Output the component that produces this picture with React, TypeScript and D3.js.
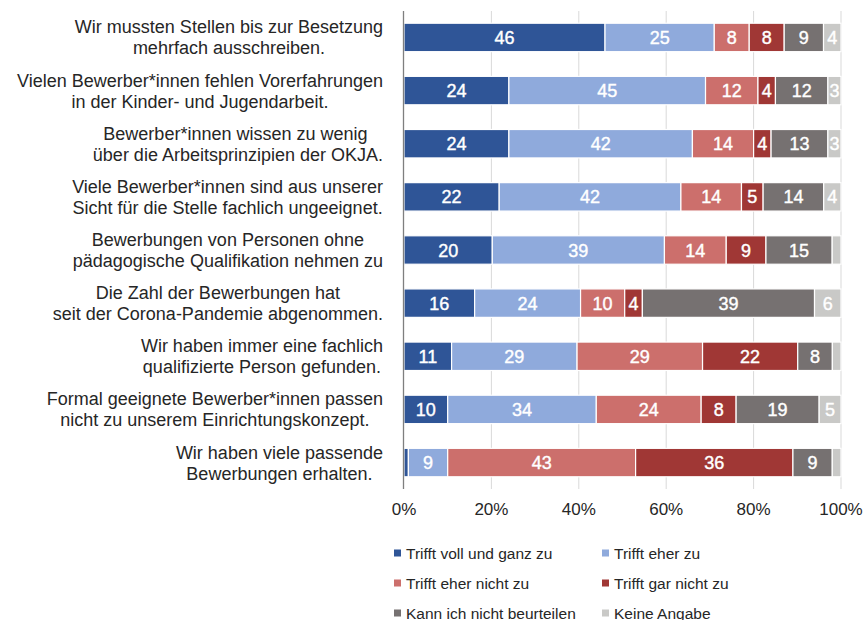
import React, { useEffect, useRef } from "react";
import * as d3 from "d3";

// statements (two lines each)
const statements = [
  ["Wir mussten Stellen bis zur Besetzung", "mehrfach ausschreiben."],
  ["Vielen Bewerber*innen fehlen Vorerfahrungen", "in der Kinder- und Jugendarbeit."],
  ["Bewerber*innen wissen zu wenig ", "über die Arbeitsprinzipien der OKJA."],
  ["Viele Bewerber*innen sind aus unserer", "Sicht für die Stelle fachlich ungeeignet."],
  ["Bewerbungen von Personen ohne", "pädagogische Qualifikation nehmen zu"],
  ["Die Zahl der Bewerbungen hat", "seit der Corona-Pandemie abgenommen."],
  ["Wir haben immer eine fachlich", "qualifizierte Person gefunden."],
  ["Formal geeignete Bewerber*innen passen", "nicht zu unserem Einrichtungskonzept."],
  ["Wir haben viele passende", "Bewerbungen erhalten."],
];

const answers = [
  "Trifft voll und ganz zu",
  "Trifft eher zu",
  "Trifft eher nicht zu",
  "Trifft gar nicht zu",
  "Kann ich nicht beurteilen",
  "Keine Angabe",
];

const colors = ["#2F5597", "#8FAADC", "#CC6F6C", "#A03735", "#767171", "#C9C9C7"];

// percent per statement, in the order of answers
const voll = [46, 24, 24, 22, 20, 16, 11, 10, 1];
const eher = [25, 45, 42, 42, 39, 24, 29, 34, 9];
const eherNicht = [8, 12, 14, 14, 14, 10, 29, 24, 43];
const garNicht = [8, 4, 4, 5, 9, 4, 22, 8, 36];
const kannNicht = [9, 12, 13, 14, 15, 39, 8, 19, 9];
const keine = [4, 3, 3, 4, 2, 6, 2, 5, 2];

const xTicks = [0, 0.2, 0.4, 0.6, 0.8, 1];

const FONT = "'Liberation Sans', Arial, sans-serif";

export default function App() {
  const ref = useRef<SVGSVGElement>(null);

  useEffect(() => {
    const svg = d3.select(ref.current);
    svg.selectAll("*").remove();

    const x0 = 404, x1 = 841;
    const top = 11, bottom = 489;

    const rows = statements.map((s, i) => {
      const vals = [voll[i], eher[i], eherNicht[i], garNicht[i], kannNicht[i], keine[i]];
      const total = d3.sum(vals);
      const r: any = { idx: i };
      answers.forEach((a, j) => (r[a] = vals[j] / total));
      r.raw = vals;
      return r;
    });

    const layers = d3.stack<any>().keys(answers)(rows);

    const x = d3.scaleLinear().domain([0, 1]).range([x0, x1]);
    const y = d3
      .scaleBand<number>()
      .domain(d3.range(statements.length))
      .range([top, bottom])
      .paddingInner(0.465)
      .paddingOuter(0.23);

    // gridlines
    svg
      .append("g")
      .selectAll("line")
      .data(xTicks.slice(1))
      .join("line")
      .attr("x1", (d) => x(d))
      .attr("x2", (d) => x(d))
      .attr("y1", top)
      .attr("y2", bottom)
      .attr("stroke", "#D9D9D9")
      .attr("stroke-width", 1);

    // bars
    const g = svg.append("g");
    layers.forEach((layer, j) => {
      g.append("g")
        .selectAll("rect")
        .data(layer)
        .join("rect")
        .attr("x", (d) => x(d[0]))
        .attr("y", (d, i) => y(i)!)
        .attr("width", (d) => Math.max(0, x(d[1]) - x(d[0])))
        .attr("height", y.bandwidth())
        .attr("fill", colors[j])
        .attr("stroke", "#fff")
        .attr("stroke-width", 1.2);

      g.append("g")
        .selectAll("text")
        .data(layer.filter((d: any) => d.data.raw[j] >= 3))
        .join("text")
        .attr("x", (d) => (x(d[0]) + x(d[1])) / 2)
        .attr("y", (d: any) => y(d.data.idx)! + y.bandwidth() / 2 + 6.5)
        .attr("text-anchor", "middle")
        .attr("fill", "#fff")
        .attr("stroke", "#fff")
        .attr("stroke-width", 0.4)
        .attr("font-family", FONT)
        .attr("font-size", 18)
        .text((d: any) => d.data.raw[j]);
    });

    // axis line
    svg
      .append("line")
      .attr("x1", x0 - 0.5)
      .attr("x2", x0 - 0.5)
      .attr("y1", top)
      .attr("y2", bottom)
      .attr("stroke", "#7F7F7F")
      .attr("stroke-width", 1.3);

    // x tick labels
    svg
      .append("g")
      .selectAll("text")
      .data(xTicks)
      .join("text")
      .attr("x", (d) => x(d))
      .attr("y", 515)
      .attr("text-anchor", "middle")
      .attr("font-family", FONT)
      .attr("font-size", 17)
      .attr("fill", "#262626")
      .text((d) => d3.format(".0%")(d));

    // statement labels: lines centred together, block right-aligned
    const lab = svg.append("g");
    statements.forEach((lines, i) => {
      const cy = y(i)! + y.bandwidth() / 2;
      const t = lab
        .append("text")
        .attr("font-family", FONT)
        .attr("font-size", 18)
        .attr("fill", "#262626")
        .attr("text-anchor", "middle");
      lines.forEach((line, k) => {
        t.append("tspan")
          .attr("y", cy + (k === 0 ? -4 : 17))
          .text(line);
      });
      const widths: number[] = [];
      t.selectAll<SVGTSpanElement, unknown>("tspan").each(function () {
        widths.push(this.getComputedTextLength());
      });
      const w = d3.max(widths) || 0;
      t.selectAll("tspan").attr("x", 383 - w / 2);
    });

    // legend
    const leg = svg.append("g");
    answers.forEach((a, j) => {
      const col = j % 2;
      const row = Math.floor(j / 2);
      const lx = col === 0 ? 394 : 602;
      const ly = 553 + row * 30;
      leg
        .append("rect")
        .attr("x", lx)
        .attr("y", ly - 3.5)
        .attr("width", 7)
        .attr("height", 7)
        .attr("fill", colors[j]);
      leg
        .append("text")
        .attr("x", lx + 12)
        .attr("y", ly + 5.5)
        .attr("font-family", FONT)
        .attr("font-size", 15.5)
        .attr("fill", "#262626")
        .text(a);
    });
  }, []);

  return (
    <svg
      ref={ref}
      width={866}
      height={620}
      style={{ position: "absolute", left: 0, top: 0, background: "#fff" }}
    />
  );
}
